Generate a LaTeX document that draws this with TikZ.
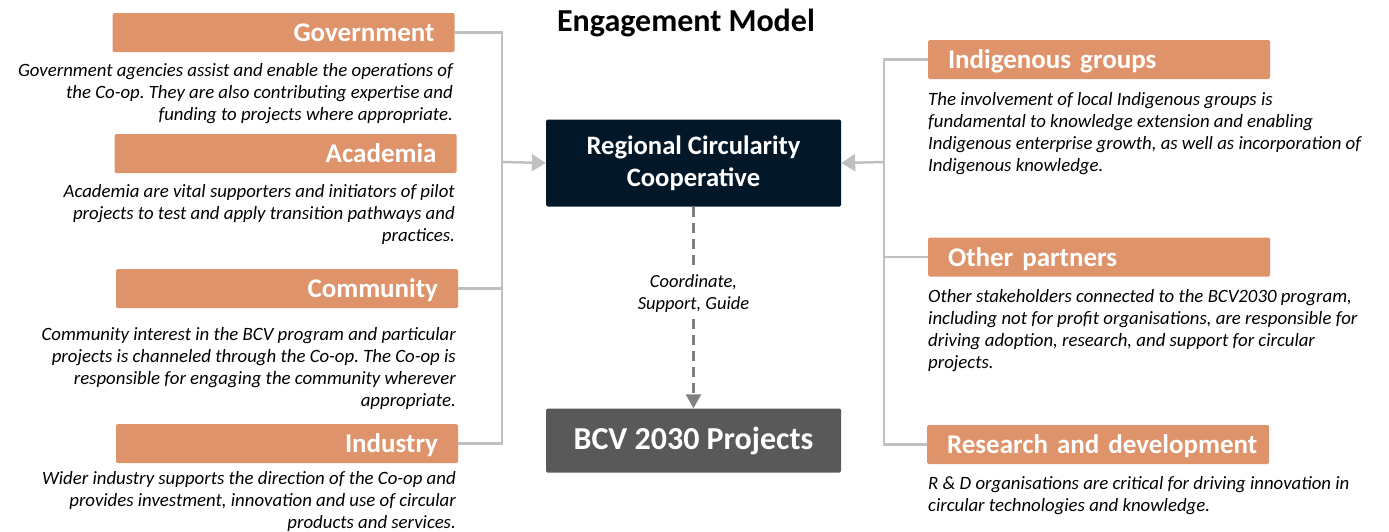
\documentclass[tikz,border=0pt]{standalone}
\usepackage{fontspec}
\setmainfont{Carlito}
\usetikzlibrary{arrows.meta}
\definecolor{boxorange}{RGB}{223,147,106}
\definecolor{navy}{RGB}{2,24,40}
\definecolor{projgray}{RGB}{89,89,89}
\definecolor{connline}{RGB}{192,192,192}
\definecolor{dashgray}{RGB}{128,128,128}
\frenchspacing
\newcommand\titlespacing{\spaceskip=6pt plus 1pt minus 1pt\relax}
\tikzset{
  catbox/.style={fill=boxorange, text=white, font=\fontsize{27}{30}\selectfont\bfseries\titlespacing,
    minimum height=39pt, inner ysep=0pt, inner xsep=20pt, text width=302pt,
    text height=20pt, text depth=1.6pt, rounded corners=1.5pt},
  catL/.style={catbox, align=right},
  catR/.style={catbox, align=left},
  desc/.style={font=\fontsize{18.8}{22}\selectfont\itshape, inner sep=0pt, text=black},
  descL/.style={desc, align=right, anchor=north east},
  descR/.style={desc, align=left, anchor=north west},
  conn/.style={draw=connline, line width=2.5pt},
  connarrow/.style={conn, -{Triangle[length=14pt,width=17pt]}},
}
\begin{document}
\begin{tikzpicture}[x=1pt,y=-1pt]
\useasboundingbox (0,0) rectangle (1389,531);
% title
\node[font=\fontsize{32}{36}\selectfont\bfseries, anchor=base, inner sep=0pt] (title) at (686,31.5) {Engagement Model};
% left column
\node[catL] (gov) at (283.5,32.5) {Government};
\node[descL] (govd) at (453,63) {Government agencies assist and enable the operations of\\the Co-op. They are also contributing expertise and\\funding to projects where appropriate.};
\node[catL] (aca) at (285.5,153.5) {Academia};
\node[descL] (acad) at (455,184) {Academia are vital supporters and initiators of pilot\\projects to test and apply transition pathways and\\practices.};
\node[catL] (com) at (287,288.5) {Community};
\node[descL] (comd) at (456,327) {Community interest in the BCV program and particular\\projects is channeled through the Co-op. The Co-op is\\responsible for engaging the community wherever\\appropriate.};
\node[catL] (ind) at (287,443.5) {Industry};
\node[descL] (indd) at (456,471) {Wider industry supports the direction of the Co-op and\\provides investment, innovation and use of circular\\products and services.};
% centre
\node[fill=navy, text=white, font=\fontsize{26.6}{32}\selectfont\bfseries, align=center,
  minimum width=295pt, minimum height=87pt, rounded corners=1.5pt, inner sep=0pt] (coop) at (693.5,163)
  {Regional Circularity\\Cooperative};
\node[fill=projgray, text=white, font=\fontsize{32}{36}\selectfont\bfseries,
  minimum width=295pt, minimum height=64pt, rounded corners=1.5pt, inner sep=0pt] (bcv) at (693.5,440.5)
  {BCV 2030 Projects};
% right column
\node[catR] (indg) at (1099,59.5) {Indigenous groups};
\node[descR] (indgd) at (928,92) {The involvement of local Indigenous groups is\\fundamental to knowledge extension and enabling\\Indigenous enterprise growth, as well as incorporation of\\Indigenous knowledge.};
\node[catR] (oth) at (1099,257) {Other partners};
\node[descR] (othd) at (928,289) {Other stakeholders connected to the BCV2030 program,\\including not for profit organisations, are responsible for\\driving adoption, research, and support for circular\\projects.};
\node[catR] (rd) at (1098,444.5) {\mbox{Research and development}};
\node[descR] (rdd) at (928,476) {R \& D organisations are critical for driving innovation in\\circular technologies and knowledge.};
% connectors
\coordinate (lj) at (502,162);
\coordinate (rj) at (884,162);
\draw[conn] (gov.east) -| (lj);
\draw[conn] (ind.east) -| (lj);
\draw[conn] (com.east) -- (com.east -| lj);
\draw[connarrow] (lj) -- (coop.west);
\draw[conn] (indg.west) -| (rj);
\draw[conn] (rd.west) -| (rj);
\draw[conn] (oth.west) -- (oth.west -| rj);
\draw[connarrow] (rj) -- (coop.east);
\draw[draw=dashgray, line width=2.5pt, dash pattern=on 10pt off 6pt, -{Triangle[length=14pt,width=15pt]}] (coop.south) -- (bcv.north)
  node[pos=0.43, fill=white, inner xsep=2pt, inner ysep=3pt, font=\fontsize{18.5}{22}\selectfont\itshape, align=center, text=black] (lbl) {Coordinate,\\Support, Guide};
\end{tikzpicture}
\end{document}
